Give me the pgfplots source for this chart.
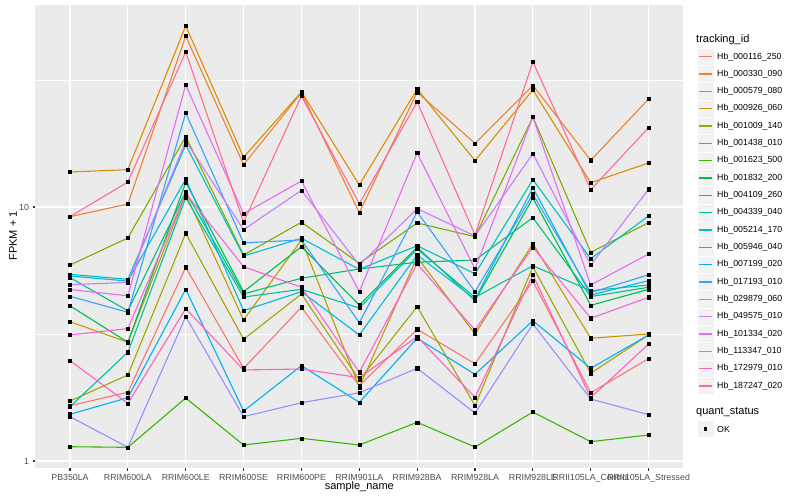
\documentclass[border=0pt]{standalone}
\usepackage{pgfplots}
\pgfplotsset{compat=1.18}
\usepackage{pgfplotstable}
\usepackage{fontspec}
\setmainfont{Liberation Sans}

% ggplot hue palette, 20 levels
\definecolor{c1}{HTML}{F8766D}
\definecolor{c2}{HTML}{EA8331}
\definecolor{c3}{HTML}{D89000}
\definecolor{c4}{HTML}{C09B00}
\definecolor{c5}{HTML}{A3A500}
\definecolor{c6}{HTML}{7CAE00}
\definecolor{c7}{HTML}{39B600}
\definecolor{c8}{HTML}{00BB4E}
\definecolor{c9}{HTML}{00BF7D}
\definecolor{c10}{HTML}{00C1A3}
\definecolor{c11}{HTML}{00BFC4}
\definecolor{c12}{HTML}{00BAE0}
\definecolor{c13}{HTML}{00B0F6}
\definecolor{c14}{HTML}{35A2FF}
\definecolor{c15}{HTML}{9590FF}
\definecolor{c16}{HTML}{C77CFF}
\definecolor{c17}{HTML}{E76BF3}
\definecolor{c18}{HTML}{FA62DB}
\definecolor{c19}{HTML}{FF62BC}
\definecolor{c20}{HTML}{FF6C91}
\definecolor{panelbg}{HTML}{EBEBEB}
\definecolor{keybg}{HTML}{F2F2F2}
\definecolor{gray30}{HTML}{4D4D4D}
\definecolor{gray20}{HTML}{333333}

% FPKM + 1 per sample (rows) and tracking id (columns s1..s20)
\pgfplotstableread{
x  s1    s2    s3    s4    s5    s6    s7    s8    s9    s10   s11   s12   s13   s14   s15   s16   s17   s18   s19   s20
0  1.651 9.16  13.73 3.535 1.722 5.91  1.138 4.08  5.27  1.636 5.43  5.35  1.527 4.45  1.494 4.94  4.73  3.134 2.483 9.16
1  1.864 10.27 14.03 2.934 2.181 7.55  1.132 2.934 3.90  2.679 5.19  5.11  1.775 3.85  1.132 5.05  4.47  3.32  1.687 12.54
2  5.79  47.1  51.6  11.25 7.88  18.92 1.770 12.51 11.49 10.88 17.54 12.86 4.74  23.45 3.70  18.19 30.2  11.32 3.98  40.8
3  2.317 14.67 15.69 3.59  3.014 6.47  1.156 4.64  4.546 4.42  6.41  3.91  1.573 7.22  1.494 8.14  9.41  5.82  2.282 8.71
4  4.03  28.2  28.4  7.42  4.546 8.71  1.228 6.98  5.24  4.74  7.53  4.64  2.373 7.42  1.696 11.63 12.66 4.83  2.302 27.35
5  1.979 9.50  12.21 1.951 2.084 6.00  1.156 4.11  5.70  4.00  5.68  3.134 1.702 3.504 1.857 5.91  4.64  2.235 2.128 10.30
6  3.30  28.3  29.1  6.34  4.05  8.65  1.420 6.94  6.06  6.83  7.04  6.47  3.042 9.56  2.317 9.85  16.32 5.97  3.086 25.9
7  2.416 17.8  15.22 3.162 1.651 7.64  1.135 4.28  6.18  4.41  5.46  4.34  2.194 4.64  1.545 7.69  5.70  3.28  1.781 7.76
8  5.11  30.1  28.9  7.17  5.82  22.6  1.559 10.85 9.08  5.87  12.81 11.91 3.567 11.22 3.463 16.21 22.6  6.94  5.40  37.3
9  1.857 15.27 12.46 3.042 2.215 6.63  1.191 4.10  4.44  4.68  6.26  4.50  2.317 4.60  1.754 5.91  4.93  3.646 1.775 11.70
10 2.528 26.6  14.90 3.162 3.134 8.68  1.266 4.74  4.83  4.93  9.22  5.13  3.134 5.41  1.522 11.74 6.53  4.41  2.887 20.52
}\fpkm

\begin{document}
\begin{tikzpicture}
\useasboundingbox (0,0) rectangle (800pt,500pt);
\fill[white] (0,0) rectangle (800pt,500pt);
\begin{axis}[
  at={(35.3pt,32pt)}, anchor=south west,
  width=648pt, height=463pt, scale only axis,
  xmin=-0.6, xmax=10.6,
  ymode=log, ymin=0.9385, ymax=62.4,
  axis x line*=bottom, axis y line*=left,
  axis line style={draw=none},
  axis background/.style={fill=panelbg},
  xtick={0,...,10},
  xticklabels={PB350LA,RRIM600LA,RRIM600LE,RRIM600SE,RRIM600PE,RRIM901LA,RRIM928BA,RRIM928LA,RRIM928LE,RRII105LA\_Control,RRII105LA\_Stressed},
  ytick={1,10}, yticklabels={1,10},
  minor ytick={3.1623,31.623},
  grid=both,
  major grid style={white, line width=1.1pt},
  minor grid style={white, line width=0.55pt},
  tick align=outside,
  major tick length=2.75pt, minor tick length=0pt,
  tick style={gray20, line width=1.1pt},
  ticklabel style={font=\fontsize{8.8}{10}\selectfont, text=gray30},
  /pgf/number format/assume math mode=true,
]
\pgfplotsinvokeforeach{1,...,20}{
  \addplot[c#1, line width=1.1pt, mark=none] table[x=x, y=s#1] {\fpkm};
}
\pgfplotsinvokeforeach{1,...,20}{
  \addplot[only marks, mark=square*, mark size=1.6pt, black] table[x=x, y=s#1] {\fpkm};
}
\end{axis}

\begin{scope}[x=1pt, y=-1pt, yshift=500pt]
  \node[font=\fontsize{11}{13}\selectfont] at (359.3,487) {sample\_name};
  \node[font=\fontsize{11}{13}\selectfont, rotate=90] at (13,236) {FPKM + 1};

  \node[anchor=west, inner sep=0, font=\fontsize{11}{13}\selectfont] at (696,40) {tracking\_id};
  \foreach \c/\n [count=\i from 0] in {c1/Hb\_000116\_250, c2/Hb\_000330\_090, c3/Hb\_000579\_080,
      c4/Hb\_000926\_060, c5/Hb\_001009\_140, c6/Hb\_001438\_010, c7/Hb\_001623\_500,
      c8/Hb\_001832\_200, c9/Hb\_004109\_260, c10/Hb\_004339\_040, c11/Hb\_005214\_170,
      c12/Hb\_005946\_040, c13/Hb\_007199\_020, c14/Hb\_017193\_010, c15/Hb\_029879\_060,
      c16/Hb\_049575\_010, c17/Hb\_101334\_020, c18/Hb\_113347\_010, c19/Hb\_172979\_010,
      c20/Hb\_187247\_020}{
    \pgfmathsetmacro\yy{56.7+17.33*\i}
    \fill[keybg, draw=white, line width=0.7pt] (697,\yy-8.66) rectangle (714,\yy+8.66);
    \draw[\c, line width=1.1pt] (698.7,\yy) -- (712.3,\yy);
    \node[anchor=west, inner sep=0, font=\fontsize{8.8}{10}\selectfont] at (717,\yy) {\n};
  }

  \node[anchor=west, inner sep=0, font=\fontsize{11}{13}\selectfont] at (696,412) {quant\_status};
  \fill[keybg, draw=white, line width=0.7pt] (697,420.3) rectangle (714,437.7);
  \fill[black] (703.8,427.3) rectangle (707.2,430.7);
  \node[anchor=west, inner sep=0, font=\fontsize{8.8}{10}\selectfont] at (717,429) {OK};
\end{scope}
\end{tikzpicture}
\end{document}
